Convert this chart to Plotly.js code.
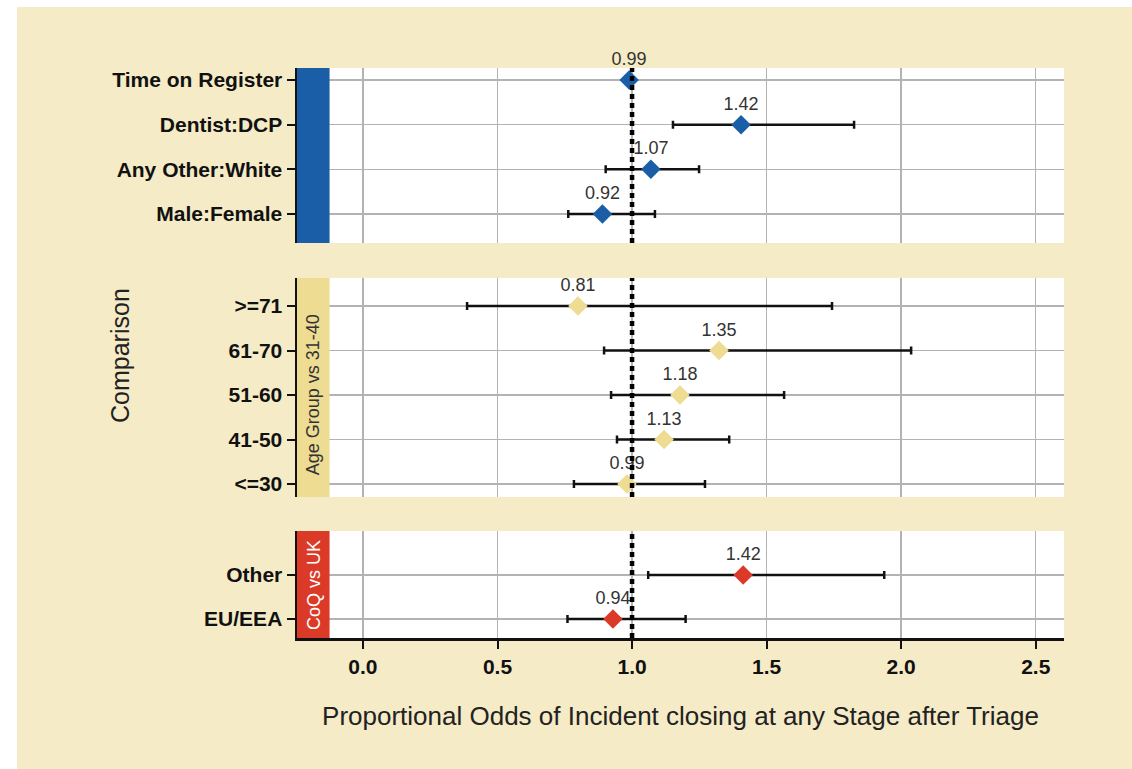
<!DOCTYPE html>
<html>
<head>
<meta charset="utf-8">
<script src="https://cdn.plot.ly/plotly-3.0.1.min.js"></script>
<style>
  html, body { margin: 0; padding: 0; background: #ffffff; }
  #chart { position: absolute; left: 17px; top: 7px; width: 1115px; height: 762px; }
</style>
</head>
<body>
<div id="chart"></div>
<script>
// ---- Data (bottom-to-top order within each panel) ----
const regCats   = ["Male:Female", "Any Other:White", "Dentist:DCP", "Time on Register"];
const regEst    = [0.89, 1.07, 1.405, 0.989];
const regLow    = [0.763, 0.902, 1.152, 0.985];
const regHigh   = [1.085, 1.249, 1.825, 0.993];
const regLabels = ["0.92", "1.07", "1.42", "0.99"];

const ageCats   = ["<=30", "41-50", "51-60", "61-70", ">=71"];
const ageEst    = [0.981, 1.119, 1.178, 1.323, 0.799];
const ageLow    = [0.784, 0.944, 0.922, 0.896, 0.387];
const ageHigh   = [1.271, 1.361, 1.565, 2.037, 1.743];
const ageLabels = ["0.99", "1.13", "1.18", "1.35", "0.81"];

const coqCats   = ["EU/EEA", "Other"];
const coqEst    = [0.929, 1.413];
const coqLow    = [0.760, 1.060];
const coqHigh   = [1.199, 1.937];
const coqLabels = ["0.94", "1.42"];

const xTicks = [0.0, 0.5, 1.0, 1.5, 2.0, 2.5];
const xTickText = ["0.0", "0.5", "1.0", "1.5", "2.0", "2.5"];

const colBlue = "#1a5ea8", colYellow = "#eedc93", colRed = "#dc3a29";
const FONT = "Liberation Sans, Arial, Helvetica, sans-serif";

function mkTrace(est, low, high, cats, labels, color, xa, ya) {
  return {
    type: "scatter", mode: "markers+text",
    x: est, y: cats, text: labels,
    textposition: "top center",
    textfont: { family: FONT, size: 18, color: "#333333" },
    marker: { symbol: "diamond", size: 15, color: color },
    error_x: {
      type: "data", symmetric: false,
      array: est.map((v, i) => high[i] - v),
      arrayminus: est.map((v, i) => v - low[i]),
      color: "#111111", thickness: 2.5, width: 4
    },
    xaxis: xa, yaxis: ya, hoverinfo: "skip", cliponaxis: false, showlegend: false
  };
}

const data = [
  mkTrace(regEst, regLow, regHigh, regCats, regLabels, colBlue, "x3", "y"),
  mkTrace(ageEst, ageLow, ageHigh, ageCats, ageLabels, colYellow, "x2", "y2"),
  mkTrace(coqEst, coqLow, coqHigh, coqCats, coqLabels, colRed, "x", "y3")
];

const xRange = [-0.245, 2.605];
const gridCol = "#b3b3b3";

function xAx(extra) {
  return Object.assign({
    range: xRange, tickvals: xTicks, ticktext: xTickText,
    showgrid: true, gridcolor: gridCol, gridwidth: 1.5, zeroline: false,
    fixedrange: true
  }, extra);
}
function yAx(cats, range, domain, anchor) {
  return {
    type: "category", categoryarray: cats, range: range, domain: domain, anchor: anchor,
    showgrid: true, gridcolor: gridCol, gridwidth: 1.5, zeroline: false,
    showline: true, linecolor: "#111111", linewidth: 2.5,
    ticks: "outside", ticklen: 8, tickwidth: 2, tickcolor: "#111111",
    tickfont: { family: FONT, size: 21, color: "#111111", weight: "bold" },
    fixedrange: true
  };
}

const shapes = [];
// coloured strips and dotted reference line at 1.0
[["x3", "y", colBlue], ["x2", "y2", colYellow], ["x", "y3", colRed]].forEach(([xa, ya, c]) => {
  shapes.push({ type: "rect", xref: xa, yref: ya + " domain", x0: -0.3, x1: -0.124, y0: 0, y1: 1,
    fillcolor: c, line: { width: 0 }, layer: "above" });
  shapes.push({ type: "line", xref: xa, yref: ya + " domain", x0: 1, x1: 1, y0: 0, y1: 1,
    line: { color: "#000000", width: 4.5, dash: "5px,4px" }, layer: "above" });
});

const layout = {
  width: 1115, height: 762,
  margin: { l: 280, r: 68, t: 61, b: 131 },
  paper_bgcolor: "#f5ebc7", plot_bgcolor: "#ffffff",
  font: { family: FONT, color: "#222222" },
  showlegend: false,
  xaxis: xAx({ anchor: "y3", showline: true, linecolor: "#111111", linewidth: 2.5,
    ticks: "outside", ticklen: 8, tickwidth: 2, tickcolor: "#111111",
    tickfont: { family: FONT, size: 21, color: "#111111", weight: "bold" },
    title: { text: "Proportional Odds of Incident closing at any Stage after Triage",
      font: { family: FONT, size: 26, color: "#222222" }, standoff: 30 } }),
  xaxis2: xAx({ anchor: "y2", matches: "x", showticklabels: false, ticks: "" }),
  xaxis3: xAx({ anchor: "y", matches: "x", showticklabels: false, ticks: "" }),
  yaxis: yAx(regCats, [-0.65, 3.27], [0.693, 1.0], "x3"),
  yaxis2: yAx(ageCats, [-0.29, 4.63], [0.2474, 0.6316], "x2"),
  yaxis3: yAx(coqCats, [-0.43, 2.0], [0.0, 0.1877], "x"),
  shapes: shapes,
  annotations: [
    { text: "Comparison", xref: "paper", yref: "paper", x: -0.2308, y: 0.4965,
      xanchor: "center", yanchor: "middle", textangle: -90, showarrow: false,
      font: { family: FONT, size: 25, color: "#222222" } },
    { text: "Age Group vs 31-40", xref: "x2", yref: "y2 domain", x: -0.184, y: 0.466,
      xanchor: "center", yanchor: "middle", textangle: -90, showarrow: false,
      font: { family: FONT, size: 18, color: "#333333" } },
    { text: "CoQ vs UK", xref: "x", yref: "y3 domain", x: -0.184, y: 0.5,
      xanchor: "center", yanchor: "middle", textangle: -90, showarrow: false,
      font: { family: FONT, size: 18, color: "#ffffff" } }
  ]
};

Plotly.newPlot("chart", data, layout, { staticPlot: true, displayModeBar: false });
</script>
</body>
</html>
